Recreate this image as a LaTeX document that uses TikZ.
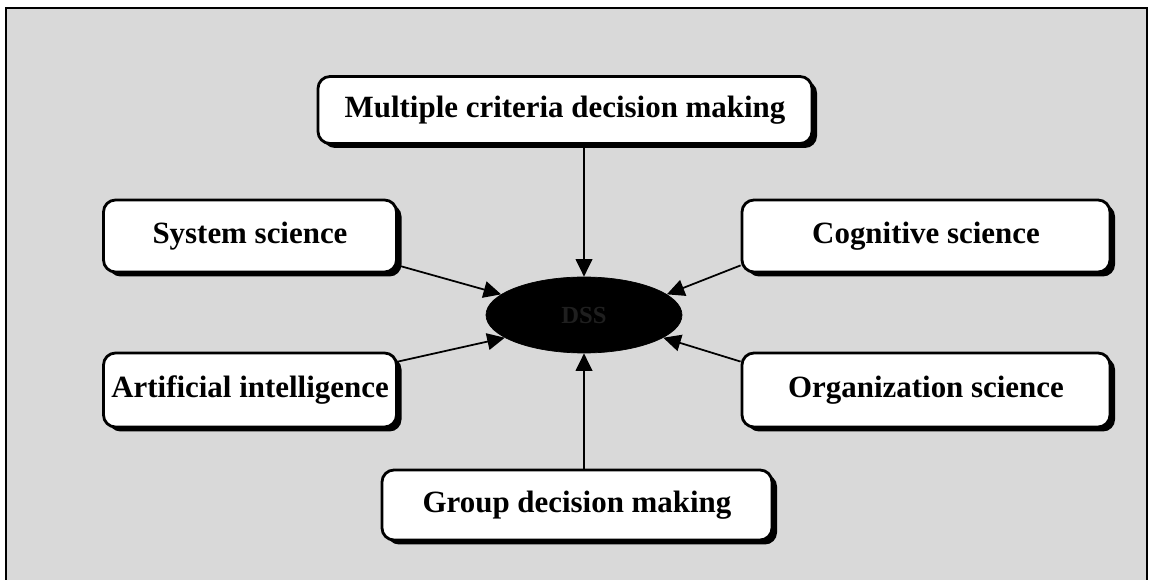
\documentclass[tikz,border=0pt]{standalone}
\usepackage{fontspec}
\setmainfont{Liberation Serif}
\usetikzlibrary{shapes.geometric,arrows.meta,shadows,calc}
\begin{document}
\begin{tikzpicture}[x=0.02cm,y=-0.02cm,
  field/.style={rounded corners=12*0.02cm, draw=black, line width=1.6pt, fill=white,
    font=\fontsize{17.6}{20}\selectfont\bfseries, inner sep=0pt,
    drop shadow={shadow xshift=0.1cm, shadow yshift=-0.09cm, fill=black, opacity=1}},
  core/.style={ellipse, draw=black, fill=black, minimum width=196*0.02cm, minimum height=76*0.02cm,
    font=\fontsize{14}{16}\selectfont\bfseries, text=black!88},
  link/.style={line width=1pt, -{Triangle[length=10pt,width=9.5pt]}}]

% page and panel background
\useasboundingbox (0,0) rectangle (1150,580);
\fill[white] (0,0) rectangle (1150,580);
\fill[black!15] (6,8) rectangle (1147,600);
\draw[line width=1.6pt] (6,600) -- (6,8) -- (1147,8) -- (1147,600);

% central ellipse
\node[core] (dss) at (584,315) {DSS};

% surrounding disciplines
\node[field, minimum width=494*0.02cm, minimum height=67*0.02cm] (mcdm) at (565,110) {Multiple criteria decision making};
\node[field, minimum width=293*0.02cm, minimum height=72*0.02cm] (sys) at (250,236) {System science};
\node[field, minimum width=368*0.02cm, minimum height=72*0.02cm] (cog) at (926,236) {Cognitive science};
\node[field, minimum width=293*0.02cm, minimum height=74*0.02cm] (ai) at (250,390) {Artificial intelligence};
\node[field, minimum width=368*0.02cm, minimum height=74*0.02cm] (org) at (926,390) {Organization science};
\node[field, minimum width=390*0.02cm, minimum height=70*0.02cm] (gdm) at (577,505) {Group decision making};

% connectors into the ellipse
\draw[link] (dss.north |- mcdm.south) -- (dss.north);
\draw[link] (dss.south |- gdm.north) -- (dss.south);
\draw[link] ($(sys.south east)+(0,-8)$) -- (dss.166);
\draw[link] ($(cog.south west)+(0,-8)$) -- (dss.14);
\draw[link] ($(ai.north east)+(0,10)$) -- (dss.196);
\draw[link] ($(org.north west)+(0,10)$) -- (dss.344);
\end{tikzpicture}
\end{document}
